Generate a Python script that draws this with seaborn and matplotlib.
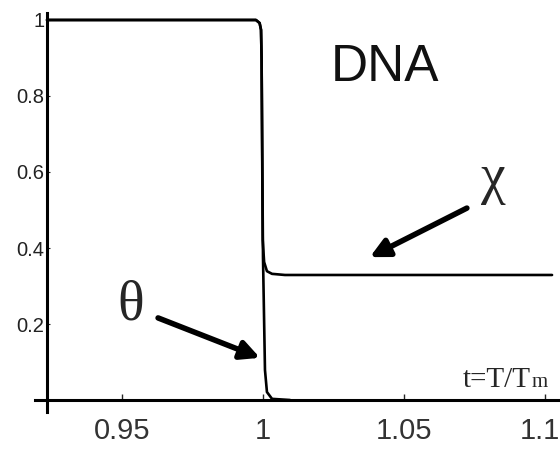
import matplotlib
matplotlib.use('Agg')
import matplotlib.pyplot as plt
import pandas as pd
import seaborn as sns
from matplotlib.ticker import MultipleLocator

# curves (t = T/Tm)
theta_t = [0.9234, 0.9975, 0.9988, 0.9993, 0.9995, 1.0000, 1.0007, 1.0014, 1.0032, 1.0096]
theta_v = [1.0, 1.0, 0.992, 0.974, 0.90, 0.376, 0.079, 0.021, 0.003, 0.0]
chi_t = [0.9234, 0.9975, 0.9988, 0.9993, 0.9995, 0.9999, 1.0004, 1.0014, 1.0032, 1.0078, 1.1025]
chi_v = [1.0, 1.0, 0.992, 0.974, 0.90, 0.421, 0.363, 0.339, 0.332, 0.329, 0.329]

x_ticks = [0.95, 1.0, 1.05, 1.1]
x_labels = ['0.95', '1', '1.05', '1.1']
y_ticks = [0.2, 0.4, 0.6, 0.8, 1.0]
y_labels = ['0.2', '0.4', '0.6', '0.8', '1']

df_theta = pd.DataFrame({'t': theta_t, 'v': theta_v})
df_chi = pd.DataFrame({'t': chi_t, 'v': chi_v})

sns.set_style('white')
sans = ['Liberation Sans', 'DejaVu Sans']
serif = ['Liberation Serif', 'DejaVu Serif']
plt.rcParams['font.family'] = sans

fig = plt.figure(figsize=(5.6, 4.58), dpi=100)
ax = fig.add_axes([0, 0, 1, 1])
ax.patch.set_alpha(0)

sns.lineplot(data=df_chi, x='t', y='v', ax=ax, color='black', lw=1.9,
             estimator=None, sort=False)
sns.lineplot(data=df_theta, x='t', y='v', ax=ax, color='black', lw=1.9,
             estimator=None, sort=False)

ax.set_xlim(0.90674, 1.10532)
ax.set_ylim(-0.1526, 1.0526)
ax.set_xlabel('')
ax.set_ylabel('')

# Mathematica style crossing axes
for s in ['top', 'right']:
    ax.spines[s].set_visible(False)
ax.spines['left'].set_position(('data', 0.9234))
ax.spines['bottom'].set_position(('data', 0.0))
ax.spines['left'].set_bounds(-0.032, 1.018)
ax.spines['bottom'].set_bounds(0.9192, 1.106)
for s in ['left', 'bottom']:
    ax.spines[s].set_linewidth(2.2)
    ax.spines[s].set_color('black')

ax.set_xticks(x_ticks)
# last label sits a little left of its tick so it stays inside the frame
ax.set_xticklabels(x_labels[:-1] + [''], fontsize=21, color='#333333')
ax.annotate(x_labels[-1], xy=(1.0982, 0), xytext=(0, -12), textcoords='offset points',
            ha='center', va='top', fontsize=21, color='#333333')
ax.xaxis.set_minor_locator(MultipleLocator(0.005))
ax.tick_params(axis='x', which='major', direction='in', length=4, width=1, pad=12)
ax.tick_params(axis='x', which='minor', direction='in', length=3, width=0.8)
ax.set_yticks(y_ticks)
ax.set_yticklabels(y_labels, fontsize=14.5, color='#222222')
ax.tick_params(axis='y', which='major', direction='in', length=2, width=0.8, pad=2)
ax.tick_params(bottom=True, left=True)

# labels and arrows
ax.text(1.0433, 0.876, 'DNA', fontsize=37, ha='center', va='center', color='#111111')
ax.text(1.0816, 0.582, 'χ', fontsize=40, ha='center', va='center', family=serif)
ax.text(0.9532, 0.25, 'θ', fontsize=40, ha='center', va='center', family=serif)
arrow = dict(arrowstyle='-|>', lw=4, color='black', mutation_scale=28, shrinkA=0, shrinkB=0)
ax.annotate('', xy=(1.0379, 0.376), xytext=(1.0723, 0.505), arrowprops=arrow)
ax.annotate('', xy=(0.99894, 0.111), xytext=(0.9628, 0.216), arrowprops=arrow)
ax.text(1.0950, 0.033, 't=T/T', fontsize=21, ha='right', va='baseline', family=serif)
ax.text(1.0952, 0.033, 'm', fontsize=15, ha='left', va='baseline', family=serif)

fig.savefig('out.png', dpi=100)
